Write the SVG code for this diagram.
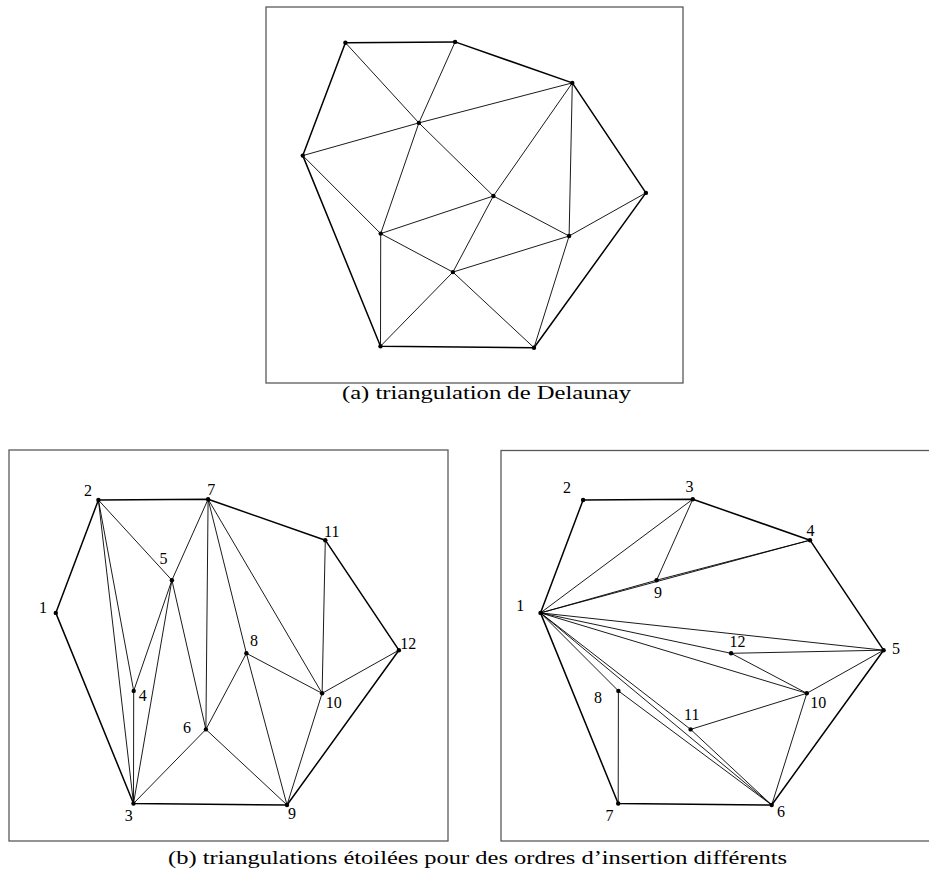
<svg xmlns="http://www.w3.org/2000/svg" width="929" height="872" viewBox="0 0 929 872">
<defs>
<style>
.frame{fill:none;stroke:#5a5a5a;stroke-width:1.3}
.hull{fill:none;stroke:#000;stroke-width:1.5;stroke-linejoin:round}
.e{stroke:#000;stroke-width:0.9;fill:none}
.pt{fill:#000}
.lbl{font-family:"Liberation Serif","DejaVu Serif",serif;font-size:16px;text-anchor:middle;fill:#000}
.cap{font-family:"Liberation Serif","DejaVu Serif",serif;font-size:18px;fill:#000}
</style>
<g id="pts">
<circle cx="55.8" cy="612.9" r="2.2"/>
<circle cx="98.4" cy="500" r="2.2"/>
<circle cx="133.5" cy="803.5" r="2.2"/>
<circle cx="133.7" cy="690.9" r="2.2"/>
<circle cx="171.9" cy="580.2" r="2.2"/>
<circle cx="205.9" cy="729.4" r="2.2"/>
<circle cx="208.1" cy="499.2" r="2.2"/>
<circle cx="246.4" cy="653.3" r="2.2"/>
<circle cx="287" cy="805" r="2.2"/>
<circle cx="322.1" cy="693.3" r="2.2"/>
<circle cx="325.3" cy="540.2" r="2.2"/>
<circle cx="398.9" cy="650.2" r="2.2"/>
</g>
<polygon id="hullpoly" points="55.8,612.9 98.4,500 208.1,499.2 325.3,540.2 398.9,650.2 287,805 133.5,803.5"/>
</defs>

<rect id="frame-a" class="frame" x="266" y="7" width="417" height="376"/>
<rect id="frame-b1" class="frame" x="9" y="450" width="439" height="391"/>
<rect id="frame-b2" class="frame" x="501" y="450.5" width="440" height="390.5"/>

<!-- (a) Delaunay -->
<g id="delaunay" transform="translate(247,-457.3)">
<g id="connectors-a">
<use href="#hullpoly" class="hull"/>
<path class="e" d="M98.4,500L171.9,580.2 M208.1,499.2L171.9,580.2 M171.9,580.2L55.8,612.9 M171.9,580.2L325.3,540.2 M171.9,580.2L246.4,653.3 M171.9,580.2L133.7,690.9 M55.8,612.9L133.7,690.9 M325.3,540.2L246.4,653.3 M325.3,540.2L322.1,693.3 M246.4,653.3L133.7,690.9 M246.4,653.3L205.9,729.4 M246.4,653.3L322.1,693.3 M133.7,690.9L205.9,729.4 M133.7,690.9L133.5,803.5 M205.9,729.4L133.5,803.5 M205.9,729.4L287,805 M205.9,729.4L322.1,693.3 M322.1,693.3L287,805 M322.1,693.3L398.9,650.2"/>
</g>
<g id="nodes-a" class="pt"><use href="#pts"/></g>
</g>
<text class="cap" x="342" y="399" textLength="289" lengthAdjust="spacingAndGlyphs">(a) triangulation de Delaunay</text>

<!-- (b) left -->
<g id="star-left">
<g id="connectors-b1">
<use href="#hullpoly" class="hull"/>
<path class="e" d="M98.4,500L171.9,580.2 M98.4,500L133.7,690.9 M98.4,500L133.5,803.5 M133.7,690.9L133.5,803.5 M133.7,690.9L171.9,580.2 M171.9,580.2L133.5,803.5 M171.9,580.2L208.1,499.2 M171.9,580.2L205.9,729.4 M208.1,499.2L205.9,729.4 M208.1,499.2L246.4,653.3 M208.1,499.2L322.1,693.3 M205.9,729.4L133.5,803.5 M205.9,729.4L246.4,653.3 M205.9,729.4L287,805 M246.4,653.3L287,805 M246.4,653.3L322.1,693.3 M325.3,540.2L322.1,693.3 M322.1,693.3L398.9,650.2 M322.1,693.3L287,805"/>
</g>
<g id="nodes-b1" class="pt"><use href="#pts"/></g>
<g id="labels-b1">
<text class="lbl" x="43" y="613">1</text>
<text class="lbl" x="88" y="496">2</text>
<text class="lbl" x="128.7" y="821">3</text>
<text class="lbl" x="142.7" y="701">4</text>
<text class="lbl" x="163.5" y="564">5</text>
<text class="lbl" x="187" y="733">6</text>
<text class="lbl" x="211.3" y="495">7</text>
<text class="lbl" x="254" y="646">8</text>
<text class="lbl" x="292" y="819">9</text>
<text class="lbl" x="333.7" y="708">10</text>
<text class="lbl" x="331.7" y="537">11</text>
<text class="lbl" x="408.3" y="649">12</text>
</g>
</g>

<!-- (b) right -->
<g id="star-right">
<g id="connectors-b2" transform="translate(484.7,0)">
<use href="#hullpoly" class="hull"/>
<path class="e" d="M55.8,612.9L208.1,499.2 M208.1,499.2L171.9,580.2 M55.8,612.9L171.9,580.2 M171.9,580.2L325.3,540.2 M55.8,612.9L325.3,540.2 M55.8,612.9L398.9,650.2 M55.8,612.9L246.4,653.3 M246.4,653.3L398.9,650.2 M246.4,653.3L322.1,693.3 M55.8,612.9L322.1,693.3 M322.1,693.3L398.9,650.2 M322.1,693.3L287,805 M322.1,693.3L205.9,729.4 M55.8,612.9L205.9,729.4 M205.9,729.4L287,805 M55.8,612.9L287,805 M55.8,612.9L133.7,690.9 M133.7,690.9L133.5,803.5 M133.7,690.9L287,805"/>
</g>
<g id="nodes-b2" class="pt" transform="translate(484.7,0)"><use href="#pts"/></g>
<g id="labels-b2">
<text class="lbl" x="520.3" y="611">1</text>
<text class="lbl" x="567" y="493">2</text>
<text class="lbl" x="689.5" y="492">3</text>
<text class="lbl" x="810.5" y="536">4</text>
<text class="lbl" x="896" y="654">5</text>
<text class="lbl" x="781" y="817">6</text>
<text class="lbl" x="609.5" y="821">7</text>
<text class="lbl" x="598" y="703">8</text>
<text class="lbl" x="658" y="598">9</text>
<text class="lbl" x="818.3" y="708">10</text>
<text class="lbl" x="691.7" y="720">11</text>
<text class="lbl" x="737.5" y="647">12</text>
</g>
</g>
<text class="cap" x="168" y="864" textLength="619" lengthAdjust="spacingAndGlyphs">(b) triangulations étoilées pour des ordres d’insertion différents</text>
</svg>
